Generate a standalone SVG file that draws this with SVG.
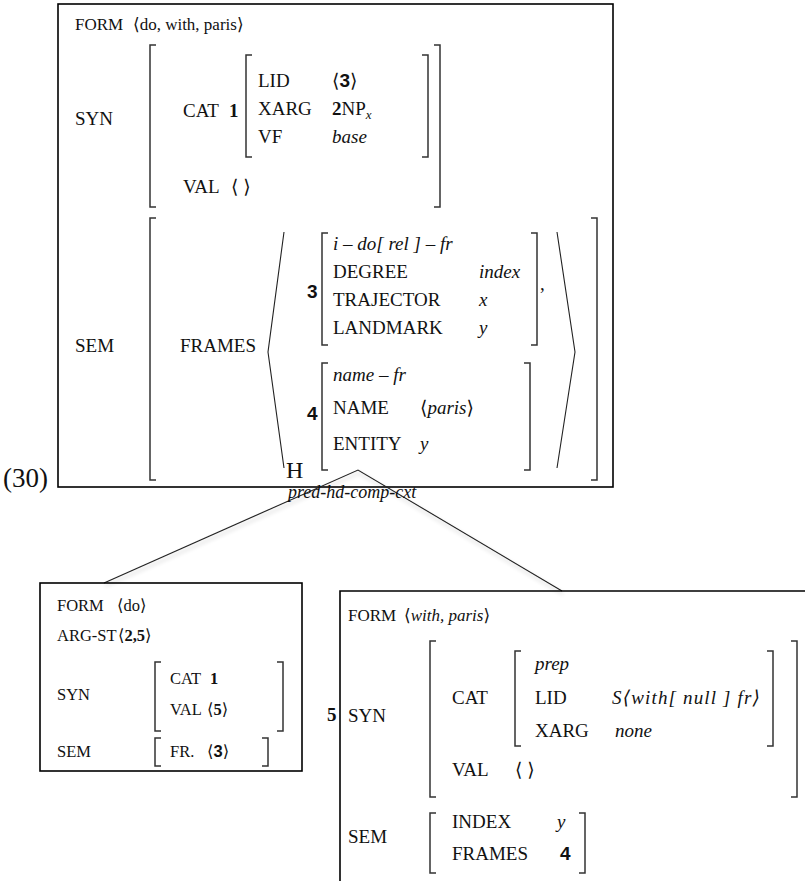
<svg xmlns="http://www.w3.org/2000/svg" width="805" height="881" viewBox="0 0 805 881">
<style>
text{font-family:"Liberation Serif","DejaVu Serif",serif;font-size:19px;fill:#111}
.it{font-style:italic}
.b{font-weight:bold}
.bs{font-family:"Liberation Sans","DejaVu Sans",sans-serif;font-weight:bold}
.f{font-size:17px}
.sm{font-size:16.5px}
.sub{font-size:13px}
.big{font-size:27px}
.h{font-size:24px}
.lab{font-size:18px}
.box{fill:none;stroke:#000;stroke-width:1.6}
.br{fill:none;stroke:#333;stroke-width:1.5}
.ln{fill:none;stroke:#222;stroke-width:1.1}
</style>
<defs>
<filter id="sh" x="-10%" y="-10%" width="120%" height="140%">
<feGaussianBlur in="SourceAlpha" stdDeviation="2"/>
<feOffset dx="1" dy="3" result="o"/>
<feComponentTransfer><feFuncA type="linear" slope="0.25"/></feComponentTransfer>
<feMerge><feMergeNode/><feMergeNode in="SourceGraphic"/></feMerge>
</filter>
</defs>
<rect width="805" height="881" fill="#fff"/>

<g id="mother">
<rect class="box" x="58" y="4" width="555" height="483"/>
<text class="f" x="75" y="30">FORM</text>
<text class="f" x="133" y="30">⟨do, with, paris⟩</text>
<text x="75" y="125">SYN</text>
<path class="br" d="M156,45H150V207H156M434,45H440V207H434"/>
<text x="183" y="117">CAT</text>
<text class="b" x="229" y="117">1</text>
<path class="br" d="M252,55H246V157H252M422,55H428V157H422"/>
<text x="258" y="87">LID</text>
<text x="332" y="87">⟨<tspan class="bs">3</tspan>⟩</text>
<text x="258" y="115">XARG</text>
<text x="332" y="115"><tspan class="b">2</tspan>NP<tspan class="it sub" dy="4">x</tspan></text>
<text x="258" y="143">VF</text>
<text class="it" x="332" y="143">base</text>
<text x="183" y="193">VAL</text>
<text x="231" y="193">⟨ ⟩</text>
<text x="75" y="352">SEM</text>
<path class="br" d="M156,218H150V480H156M591,218H597V480H591"/>
<text x="180" y="352">FRAMES</text>
<path class="ln" d="M284,232L268,352L284,468M557,232L575,352L557,468"/>
<text class="bs" x="307" y="298">3</text>
<path class="br" d="M328,233H322V345H328M531,233H537V345H531"/>
<text x="540" y="290">,</text>
<text class="it" x="333" y="250">i – do[ rel ] – fr</text>
<text x="333" y="278">DEGREE</text>
<text class="it" x="479" y="278">index</text>
<text x="333" y="306">TRAJECTOR</text>
<text class="it" x="479" y="306">x</text>
<text x="333" y="334">LANDMARK</text>
<text class="it" x="479" y="334">y</text>
<text class="bs" x="307" y="420">4</text>
<path class="br" d="M328,363H322V470H328M524,363H530V470H524"/>
<text class="it" x="333" y="381">name – fr</text>
<text x="333" y="414">NAME</text>
<text x="420" y="414">⟨<tspan class="it">paris</tspan>⟩</text>
<text x="333" y="450">ENTITY</text>
<text class="it" x="420" y="450">y</text>
</g>

<text class="big" x="3" y="487">(30)</text>

<g id="connectors">
<path class="ln" filter="url(#sh)" d="M104,583L358,470L562,591"/>
<text class="h" x="286" y="478">H</text>
<text class="it lab" x="288" y="498">pred-hd-comp-cxt</text>
</g>

<g id="head">
<rect class="box" x="40" y="583" width="262" height="188"/>
<text class="sm" x="57" y="611">FORM</text>
<text class="sm" x="117" y="611">⟨do⟩</text>
<text class="sm" x="57" y="641">ARG-ST</text>
<text class="sm" x="118" y="641">⟨<tspan class="b">2,5</tspan>⟩</text>
<text class="sm" x="57" y="700">SYN</text>
<path class="br" d="M161,662H155V731H161M277,662H283V731H277"/>
<text class="sm" x="170" y="684">CAT</text>
<text class="sm b" x="210" y="684">1</text>
<text class="sm" x="170" y="715">VAL</text>
<text class="sm" x="207" y="715">⟨<tspan class="b">5</tspan>⟩</text>
<text class="sm" x="57" y="757">SEM</text>
<path class="br" d="M161,738H155V766H161M262,738H268V766H262"/>
<text class="sm" x="170" y="757">FR.</text>
<text class="sm" x="207" y="757">⟨<tspan class="bs">3</tspan>⟩</text>
</g>

<g id="comp">
<path class="box" d="M805,591H340V881"/>
<text class="b" x="327" y="721">5</text>
<text class="f" x="348" y="621">FORM</text>
<text class="f" x="404" y="621">⟨<tspan class="it">with, paris</tspan>⟩</text>
<text x="348" y="722">SYN</text>
<path class="br" d="M436,641H430V797H436M791,641H797V797H791"/>
<text x="452" y="704">CAT</text>
<path class="br" d="M521,651H515V746H521M767,651H773V746H767"/>
<text class="it" x="535" y="670">prep</text>
<text x="535" y="704">LID</text>
<text class="it" x="612" y="704" textLength="148" lengthAdjust="spacing">S⟨with[ null ] fr⟩</text>
<text x="535" y="737">XARG</text>
<text class="it" x="615" y="737">none</text>
<text x="452" y="776">VAL</text>
<text x="515" y="776">⟨ ⟩</text>
<text x="348" y="843">SEM</text>
<path class="br" d="M436,813H430V873H436M579,813H585V873H579"/>
<text x="452" y="828">INDEX</text>
<text class="it" x="557" y="828">y</text>
<text x="452" y="860">FRAMES</text>
<text class="bs" x="560" y="860">4</text>
</g>
</svg>
